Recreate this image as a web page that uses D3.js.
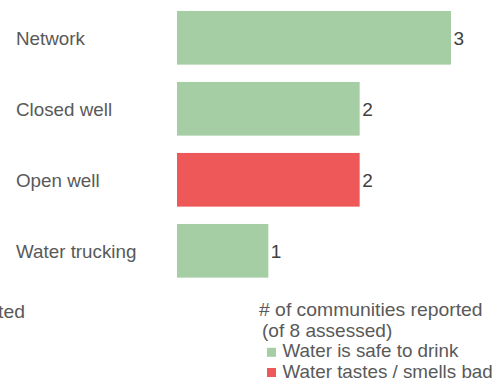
<!DOCTYPE html>
<html>
<head>
<meta charset="utf-8">
<script src="https://cdn.jsdelivr.net/npm/d3@7"></script>
<style>
  html, body { margin: 0; padding: 0; background: #fff; }
  svg { display: block; font-family: "Liberation Sans", Arial, sans-serif; }
</style>
</head>
<body>
<svg id="chart" width="495" height="383"></svg>
<script>
const categories = ["Network", "Closed well", "Open well", "Water trucking"];
const values = [3, 2, 2, 1];
const series = ["safe", "safe", "bad", "safe"];
const legendTitle = ["# of communities reported", "(of 8 assessed)"];
const legendItems = [
  { key: "safe", label: "Water is safe to drink" },
  { key: "bad", label: "Water tastes / smells bad" }
];
const clippedText = "# of communities reported";

const colors = { safe: "#a6cea4", bad: "#ee5858" };

const svg = d3.select("#chart");

const x = d3.scaleLinear().domain([0, 3]).range([177, 451]);
const y = d3.scaleBand().domain(categories).range([2.3, 286.3])
  .paddingInner(0.244).paddingOuter(0.122);

const data = categories.map((c, i) => ({ c, v: values[i], s: series[i] }));

function stretchedText(parent, tx, ty, sx, str, opts) {
  const t = parent.append("text")
    .attr("transform", `translate(${tx},${ty}) scale(${sx},1)`)
    .attr("font-size", opts.size)
    .attr("fill", opts.fill)
    .text(str);
  if (opts.anchor) t.attr("text-anchor", opts.anchor);
  return t;
}

svg.selectAll("rect.bar").data(data).enter().append("rect")
  .attr("class", "bar")
  .attr("x", x(0))
  .attr("y", d => y(d.c))
  .attr("width", d => x(d.v) - x(0))
  .attr("height", y.bandwidth())
  .attr("fill", d => colors[d.s]);

data.forEach(d => {
  stretchedText(svg, 16, y(d.c) + y.bandwidth() / 2 + 7, 1.045, d.c, { size: 18, fill: "#595959" });
});

svg.selectAll("text.val").data(data).enter().append("text")
  .attr("class", "val")
  .attr("x", d => x(d.v) + 2.5)
  .attr("y", d => y(d.c) + y.bandwidth() / 2 + 7)
  .attr("font-size", 19)
  .attr("fill", "#404040")
  .text(d => d.v);

// clipped text from neighbouring panel
stretchedText(svg, 25, 318, 1.075, clippedText, { size: 18, fill: "#595959", anchor: "end" });

// legend
const lg = svg.append("g");
stretchedText(lg, 259, 316, 1.075, legendTitle[0], { size: 18, fill: "#595959" });
stretchedText(lg, 262, 336.5, 1.06, legendTitle[1], { size: 18, fill: "#595959" });
legendItems.forEach((it, i) => {
  const by = 357.3 + i * 20.2;
  lg.append("rect").attr("x", 267).attr("y", by - 9.5).attr("width", 9).attr("height", 9).attr("fill", colors[it.key]);
  stretchedText(lg, 282.5, by, 1.045, it.label, { size: 18, fill: "#595959" });
});
</script>
</body>
</html>
